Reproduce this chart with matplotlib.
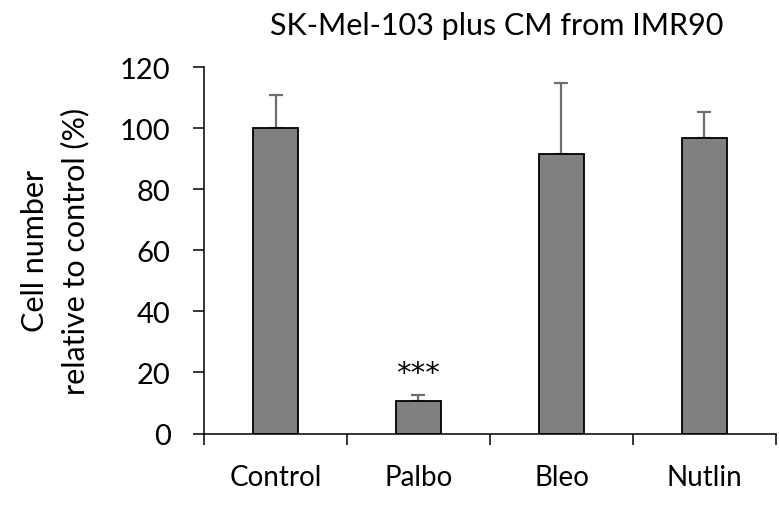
import matplotlib
matplotlib.use("Agg")
import matplotlib.pyplot as plt
import numpy as np

# donnees du graphique
traitements = ["Control", "Palbo", "Bleo", "Nutlin"]
moyennes = [100, 10.7, 91.7, 96.8]
erreurs = [11, 2, 23, 8.5]
graduationsY = [0, 20, 40, 60, 80, 100, 120]

plt.rcParams["font.family"] = ["Lato", "DejaVu Sans"]

fig = plt.figure(figsize=(7.79, 5.06), dpi=100)
ax = fig.add_axes([0.2619, 0.1413, 0.7342, 0.7237])

x = np.arange(len(traitements))
ax.bar(x, moyennes, width=0.32, color="#808080", edgecolor="black", linewidth=1.3, zorder=2)
ax.errorbar(x, moyennes, yerr=[np.zeros(len(erreurs)), erreurs], fmt="none",
            ecolor="#6e6e6e", elinewidth=1.6, capsize=5, capthick=1.6, zorder=1)

# etoiles de significativite
ax.text(x[1], moyennes[1] + erreurs[1] + 2.5, "***", ha="center", va="bottom",
        fontsize=21, family="DejaVu Sans")

ax.set_xlim(-0.5, len(traitements) - 0.5)
ax.set_ylim(0, 120)
ax.set_yticks(graduationsY)
ax.set_xticks(x)
ax.set_xticklabels(traitements)
ax.set_xticks(np.arange(-0.5, len(traitements)), minor=True)
ax.tick_params(axis="x", which="major", length=0, pad=22, labelsize=20)
ax.tick_params(axis="x", which="minor", length=8, width=1.1, direction="out")
ax.tick_params(axis="y", length=8, width=1.1, pad=16, labelsize=21)

for cote in ["top", "right"]:
    ax.spines[cote].set_visible(False)
ax.spines["left"].set_linewidth(1.1)
ax.spines["bottom"].set_linewidth(1.1)

ax.set_ylabel("Cell number\nrelative to control (%)", fontsize=22, labelpad=22, linespacing=1.5)
fig.text(0.637, 0.948, "SK-Mel-103 plus CM from IMR90", ha="center", va="center", fontsize=22)

fig.savefig("out.png", dpi=100)
